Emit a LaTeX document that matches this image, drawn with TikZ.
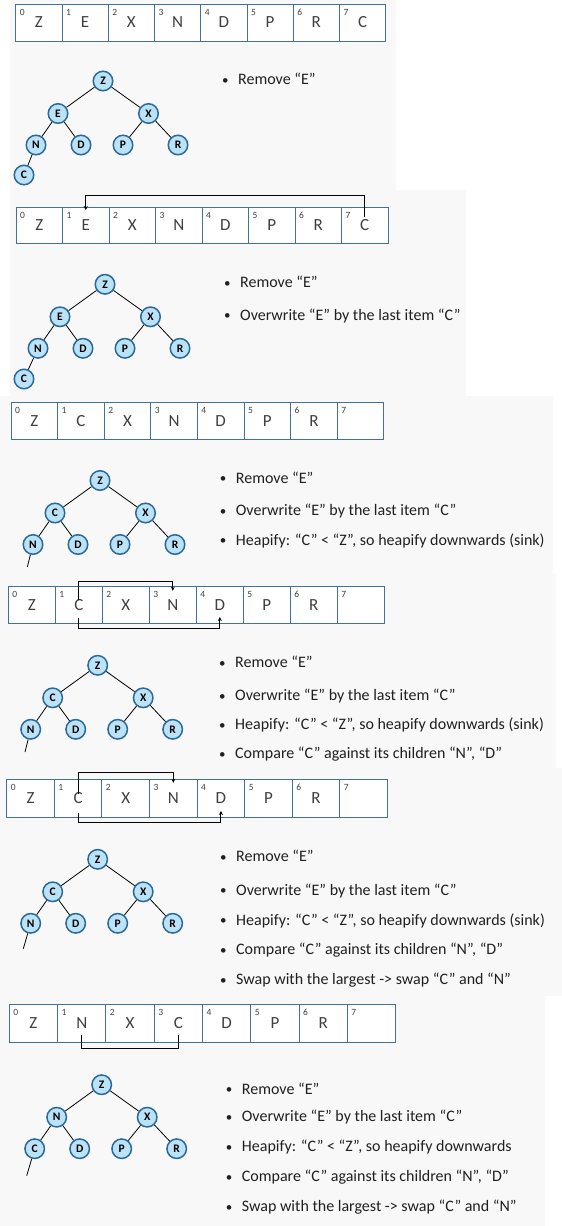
\documentclass[tikz,border=0pt]{standalone}
\usepackage{fontspec}
\setmainfont{Carlito}
\usetikzlibrary{arrows.meta}
\definecolor{panelbg}{HTML}{F8F8F8}
\definecolor{arrblue}{HTML}{41719C}
\definecolor{celltext}{HTML}{404040}
\definecolor{nodefill}{HTML}{BCE2F8}
\definecolor{nodeborder}{HTML}{2A6A98}
\definecolor{bodytext}{HTML}{202020}
\tikzset{
 panel/.style={fill=panelbg, draw=none},
 cell/.style={draw=arrblue, fill=white, line width=0.9pt, inner sep=0pt, outer sep=0pt, font=\fontsize{17}{17}\selectfont, text=celltext},
 idx/.style={font=\fontsize{9.5}{9.5}\selectfont, text=celltext, inner sep=0pt},
 hnode/.style={circle, draw=nodeborder, fill=nodefill, line width=1.5pt, minimum size=19.5pt, inner sep=0pt, font=\bfseries\fontsize{11.5}{11.5}\selectfont},
 tedge/.style={draw=black, line width=0.8pt},
 conn/.style={draw=black, line width=1pt},
 arr/.style={-{Stealth[length=4pt,width=4pt]}},
 btxt/.style={anchor=base west, inner sep=0pt, font=\fontsize{16}{16}\selectfont, text=bodytext},
 bdot/.style={anchor=base west, inner sep=0pt, font=\fontsize{13}{13}\selectfont, text=bodytext},
}
\newcommand\heaparray[6]{%
 \foreach \lt [count=\k from 0] in {#6} {
   \node[cell, minimum width=#4pt, minimum height=#5pt, anchor=north west] (#1-\k) at ({#2+\k*#4},#3) {\lt};
   \node[idx] (#1-i\k) at ([xshift=6.5pt,yshift=-8.5pt]#1-\k.north west) {\k};
 }}
\newcommand\heaptree[5]{%
 \node[hnode] (#1-z) at (#2,#3) {Z};
 \node[hnode] (#1-l) at ({#2-45},{#3+32.5}) {#4};
 \node[hnode] (#1-r) at ({#2+45.5},{#3+32.5}) {X};
 \node[hnode] (#1-ll) at ({#2-67},{#3+64}) {#5};
 \node[hnode] (#1-lr) at ({#2-22},{#3+64}) {D};
 \node[hnode] (#1-rl) at ({#2+20},{#3+64}) {P};
 \node[hnode] (#1-rr) at ({#2+75},{#3+64}) {R};
 \draw[tedge] (#1-z) -- (#1-l) (#1-z) -- (#1-r) (#1-l) -- (#1-ll) (#1-l) -- (#1-lr) (#1-r) -- (#1-rl) (#1-r) -- (#1-rr);
}
\newcommand\bul[4]{% name, x, baseline y, text
 \node[bdot] (#1d) at ({#2-16},{#3-0.5}) {•};
 \node[btxt] (#1) at (#2,#3) {#4};
}
\begin{document}
\begin{tikzpicture}[x=1pt,y=-1pt]
\useasboundingbox (0,0) rectangle (562,1226);
\fill[white] (0,0) rectangle (562,1226);
% panel backgrounds
\fill[panel] (10,0) rectangle (396,190);
\fill[panel] (10,190) rectangle (466,396);
\fill[panel] (0,396) rectangle (553,573);
\fill[panel] (0,573) rectangle (556,768);
\fill[panel] (0,768) rectangle (562,996);
\fill[panel] (0,996) rectangle (545,1226);

% ---------- panel 1
\heaparray{a}{15.7}{4}{46.25}{37}{Z,E,X,N,D,P,R,C}
\heaptree{ta}{103}{81}{E}{N}
\node[hnode] (ta-c) at (24,175) {C};
\draw[tedge] (ta-ll) -- (ta-c);
\bul{ta1}{238}{84.5}{Remove “E”}

% ---------- panel 2
\heaparray{b}{16}{207}{46.5}{36.5}{Z,E,X,N,D,P,R,C}
\draw[conn,arr] ([yshift=-9.5pt]b-7.north) -- ([yshift=11.3pt]b-7.north) -| ([yshift=-3pt]b-1.north);
\heaptree{tb}{105}{284.3}{E}{N}
\node[hnode] (tb-c) at (24,379) {C};
\draw[tedge] (tb-ll) -- (tb-c);
\bul{tb1}{240}{287.5}{Remove “E”}
\bul{tb2}{240}{320.2}{Overwrite “E” by the last item “C”}

% ---------- panel 3
\heaparray{c}{11}{402.3}{46.6}{37}{Z,C,X,N,D,P,R,{}}
\heaptree{tc}{100}{480.5}{C}{N}
\coordinate (tc-stub) at (27.3,567);
\draw[tedge] (tc-ll) -- (tc-stub);
\bul{tc1}{235.7}{483.2}{Remove “E”}
\bul{tc2}{235.7}{515.9}{Overwrite “E” by the last item “C”}
\bul{tc3}{235.7}{545.2}{Heapify: “C” < “Z”, so heapify downwards (sink)}

% ---------- panel 4
\heaparray{d}{8.3}{586.3}{47}{36.7}{Z,C,X,N,D,P,R,{}}
\draw[conn,arr] ([yshift=-14pt]d-1.north) -- ([yshift=5pt]d-1.north) -| ([yshift=-4.5pt]d-3.north);
\draw[conn,arr] ([yshift=5pt]d-1.south) -- ([yshift=-5.7pt]d-1.south) -| ([yshift=6pt]d-4.south);
\heaptree{td}{97.7}{665.3}{C}{N}
\coordinate (td-stub) at (25,752);
\draw[tedge] (td-ll) -- (td-stub);
\bul{td1}{235}{667.9}{Remove “E”}
\bul{td2}{235}{700.5}{Overwrite “E” by the last item “C”}
\bul{td3}{235}{729.9}{Heapify: “C” < “Z”, so heapify downwards (sink)}
\bul{td4}{235}{758.9}{Compare “C” against its children “N”, “D”}

% ---------- panel 5
\heaparray{e}{6.7}{779.3}{47.6}{37.7}{Z,C,X,N,D,P,R,{}}
\draw[conn,arr] ([yshift=-15pt]e-1.north) -- ([yshift=6.6pt]e-1.north) -| ([yshift=-3.5pt]e-3.north);
\draw[conn,arr] ([yshift=4.5pt]e-1.south) -- ([yshift=-5.7pt]e-1.south) -| ([yshift=6pt]e-4.south);
\heaptree{te}{97.7}{859.3}{C}{N}
\coordinate (te-stub) at (23.3,948.7);
\draw[tedge] (te-ll) -- (te-stub);
\bul{te1}{236}{861.9}{Remove “E”}
\bul{te2}{236}{895.2}{Overwrite “E” by the last item “C”}
\bul{te3}{236}{925.2}{Heapify: “C” < “Z”, so heapify downwards (sink)}
\bul{te4}{236}{954.5}{Compare “C” against its children “N”, “D”}
\bul{te5}{236}{984.5}{Swap with the largest -> swap “C” and “N”}

% ---------- panel 6
\heaparray{f}{9.3}{1004}{48.3}{38.3}{Z,N,X,C,D,P,R,{}}
\draw[conn] ([yshift=7.6pt]f-1.south) -- ([yshift=-5.7pt]f-1.south) -| ([yshift=7.6pt]f-3.south);
\heaptree{tf}{101.7}{1084.7}{N}{C}
\coordinate (tf-stub) at (26.7,1175.7);
\draw[tedge] (tf-ll) -- (tf-stub);
\bul{tf1}{241.7}{1094.2}{Remove “E”}
\bul{tf2}{241.7}{1121.9}{Overwrite “E” by the last item “C”}
\bul{tf3}{241.7}{1151.9}{Heapify: “C” < “Z”, so heapify downwards}
\bul{tf4}{241.7}{1181.9}{Compare “C” against its children “N”, “D”}
\bul{tf5}{241.7}{1211.5}{Swap with the largest -> swap “C” and “N”}
\end{tikzpicture}
\end{document}
